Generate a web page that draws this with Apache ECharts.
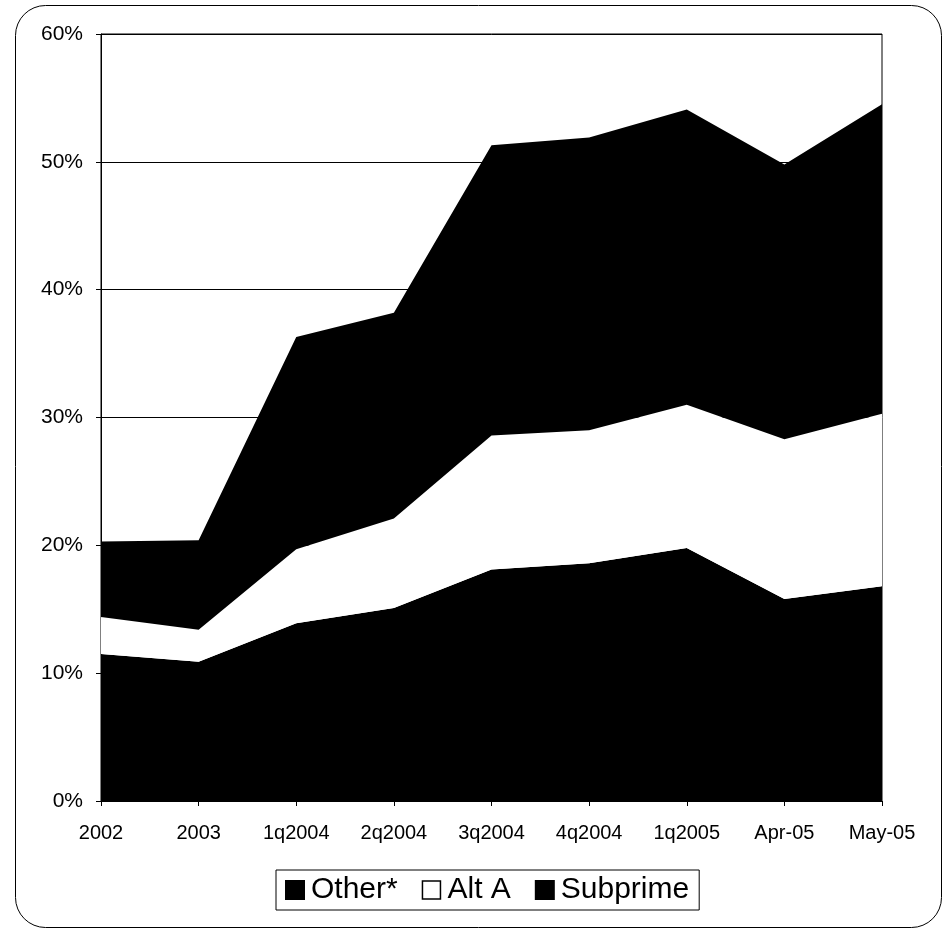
<!DOCTYPE html>
<html>
<head>
<meta charset="utf-8">
<script src="https://cdn.jsdelivr.net/npm/echarts@6/dist/echarts.min.js"></script>
<style>
  html, body { margin: 0; padding: 0; background: #fff; }
  #chart { width: 944px; height: 932px; }
</style>
</head>
<body>
<div id="chart"></div>
<script>
// categories and stacked shares (percent)
const categories = ['2002', '2003', '1q2004', '2q2004', '3q2004', '4q2004', '1q2005', 'Apr-05', 'May-05']
const subprime = [11.5, 10.9, 13.9, 15.1, 18.1, 18.6, 19.8, 15.8, 16.8]
const altA = [2.9, 2.5, 5.8, 7.0, 10.5, 10.4, 11.2, 12.5, 13.5]
const other = [5.9, 7.0, 16.6, 16.1, 22.7, 22.9, 23.1, 21.5, 24.2]
const legendNames = ['Other*', 'Alt A', 'Subprime']

const font = '"Liberation Sans", Arial, sans-serif'
const chart = echarts.init(document.getElementById('chart'))

const areaSeries = (name, data, color) => ({
  name: name,
  type: 'line',
  stack: 'total',
  data: data,
  symbol: 'none',
  lineStyle: { width: 0 },
  itemStyle: { color: color, borderColor: '#000', borderWidth: 1 },
  areaStyle: { color: color, opacity: 1 },
  emphasis: { disabled: true }
})

chart.setOption({
  animation: false,
  backgroundColor: '#fff',
  graphic: [{
    type: 'rect',
    shape: { x: 15.5, y: 5.5, width: 926, height: 922, r: 30 },
    style: { fill: null, stroke: '#000', lineWidth: 1 },
    z: -1
  }],
  grid: {
    left: 101, right: 62, top: 34, bottom: 131,
    show: true, borderColor: '#000', borderWidth: 1
  },
  legend: {
    data: [
      { name: legendNames[0] },
      { name: legendNames[1], itemStyle: { color: '#fff', borderColor: '#000', borderWidth: 1.5 } },
      { name: legendNames[2] }
    ],
    top: 870,
    left: 276,
    icon: 'rect',
    itemWidth: 18,
    itemHeight: 18,
    itemGap: 24,
    padding: [5, 10, 5, 9],
    borderColor: '#000',
    borderWidth: 1,
    textStyle: { fontFamily: font, fontSize: 30, color: '#000', padding: [0, 0, 0, 2] }
  },
  xAxis: {
    type: 'category',
    data: categories,
    boundaryGap: false,
    axisLine: { lineStyle: { color: '#000', width: 1 } },
    axisTick: { show: true, length: 5, lineStyle: { color: '#000' } },
    axisLabel: { fontFamily: font, fontSize: 20, color: '#000', margin: 22 },
    splitLine: { show: false }
  },
  yAxis: {
    type: 'value',
    min: 0,
    max: 60,
    interval: 10,
    axisLine: { show: true, lineStyle: { color: '#000', width: 1 } },
    axisTick: { show: true, length: 5, lineStyle: { color: '#000' } },
    axisLabel: { fontFamily: font, fontSize: 21, color: '#000', margin: 18, formatter: '{value}%' },
    splitLine: { lineStyle: { color: '#000', width: 1 } }
  },
  series: [
    areaSeries('Subprime', subprime, '#000'),
    areaSeries('Alt A', altA, '#fff'),
    areaSeries('Other*', other, '#000')
  ]
})
</script>
</body>
</html>
